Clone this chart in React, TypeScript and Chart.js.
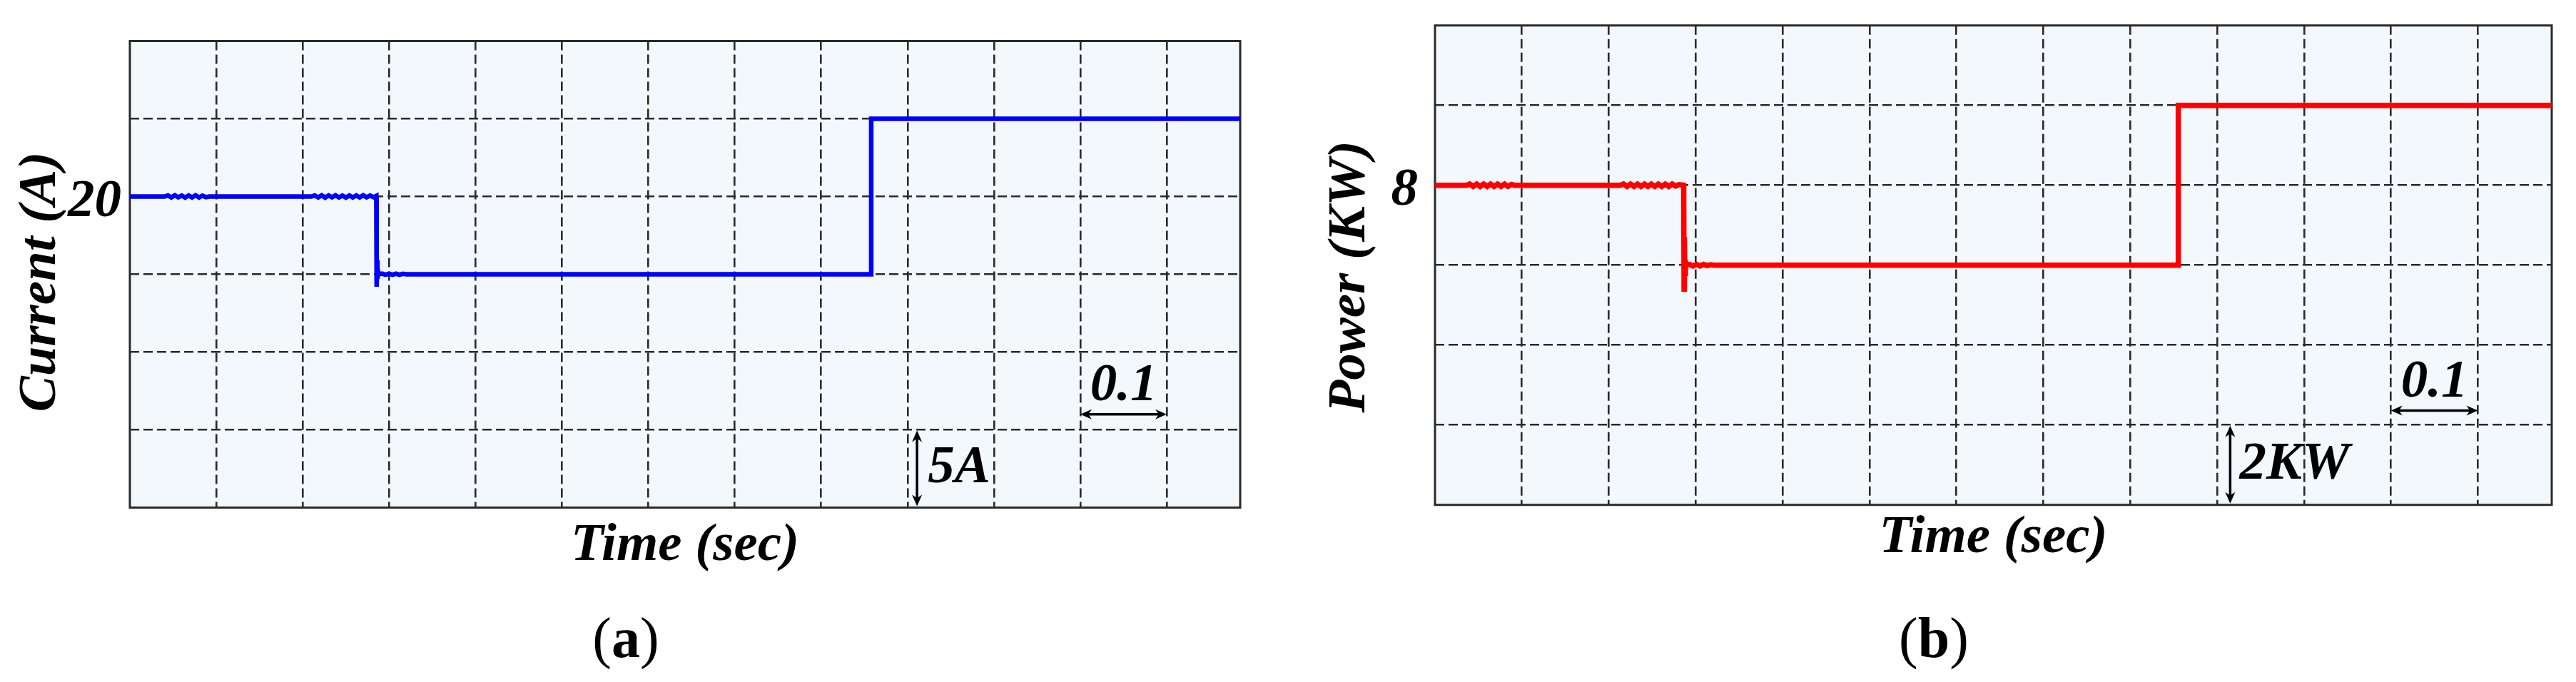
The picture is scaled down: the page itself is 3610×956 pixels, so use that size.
import { useEffect, useRef } from 'react';
import { Chart, registerables } from 'chart.js';

Chart.register(...registerables);

// ---------------- data: panel (a) load current (A) ----------------
const currentTime = [
  0,
  0.040, 0.044, 0.048, 0.052, 0.056, 0.060, 0.064, 0.068, 0.072, 0.076, 0.080, 0.084, 0.088, 0.092,
  0.210, 0.214, 0.218, 0.222, 0.226, 0.230, 0.234, 0.238, 0.242, 0.246, 0.250, 0.254, 0.258, 0.262,
  0.266, 0.270, 0.274, 0.278, 0.282,
  0.2852, 0.2856, 0.2860, 0.2865, 0.2872, 0.2880,
  0.292, 0.296, 0.300, 0.304, 0.308, 0.312, 0.316, 0.320,
  0.8577, 0.8580, 0.8590, 1.285,
];
const currentValue = [
  20,
  20.00, 20.07, 19.94, 20.08, 19.95, 20.06, 19.93, 20.07, 19.94, 20.08, 19.94, 20.05, 19.96, 20.00,
  20.00, 20.07, 19.94, 20.08, 19.93, 20.07, 19.95, 20.08, 19.94, 20.06, 19.93, 20.07, 19.94, 20.07,
  19.94, 20.08, 19.95, 20.06, 19.96,
  20.04, 14.20, 15.90, 14.70, 15.20, 15.00,
  15.04, 14.97, 15.04, 14.97, 15.04, 14.97, 15.03, 15.00,
  15.00, 25.00, 25.00, 25.00,
];

// ---------------- data: panel (b) power (KW) ----------------
const powerTime = [
  0,
  0.036, 0.040, 0.044, 0.048, 0.052, 0.056, 0.060, 0.064, 0.068, 0.072, 0.076, 0.080, 0.084, 0.088, 0.092,
  0.213, 0.217, 0.221, 0.225, 0.229, 0.233, 0.237, 0.241, 0.245, 0.249, 0.253, 0.257, 0.261, 0.265,
  0.269, 0.273, 0.277, 0.281,
  0.2862, 0.2866, 0.2870, 0.2875, 0.2882, 0.2890,
  0.293, 0.297, 0.301, 0.305, 0.309, 0.313, 0.317, 0.321,
  0.8550, 0.8553, 0.8565, 1.285,
];
const powerValue = [
  8,
  8.00, 8.03, 7.97, 8.03, 7.97, 8.03, 7.97, 8.03, 7.97, 8.03, 7.97, 8.03, 7.97, 8.02, 8.00,
  8.00, 8.03, 7.97, 8.03, 7.97, 8.03, 7.97, 8.03, 7.97, 8.03, 7.97, 8.03, 7.97, 8.03,
  7.97, 8.03, 7.98, 8.02,
  8.00, 5.40, 6.70, 5.80, 6.12, 6.00,
  6.02, 5.98, 6.02, 5.98, 6.02, 5.99, 6.01, 6.00,
  6.00, 10.00, 10.00, 10.00,
];

// ---------------- axes / ticks ----------------
const timeGridTicks = [0.1, 0.2, 0.3, 0.4, 0.5, 0.6, 0.7, 0.8, 0.9, 1.0, 1.1, 1.2];
const timeMax = 1.285;
const currentGridTicks = [5, 10, 15, 20, 25];
const currentRange = [0, 30];
const currentTickValues = [20];
const currentTickLabels = ['20'];
const powerGridTicks = [2, 4, 6, 8, 10];
const powerRange = [0, 12];
const powerTickValues = [8];
const powerTickLabels = ['8'];

// ---------------- styles ----------------
const FONT = '"Liberation Serif", "Times New Roman", serif';
const PLOT_BG = '#F3F8FC';
const GRID = '#2A2A2A';
const CANVAS_W = 1805;
const CANVAS_H = 956;

function drawArrow(ctx: CanvasRenderingContext2D, x1: number, y1: number, x2: number, y2: number) {
  const head = 16;
  const half = 7;
  const ang = Math.atan2(y2 - y1, x2 - x1);
  const ux = Math.cos(ang);
  const uy = Math.sin(ang);
  ctx.save();
  ctx.lineWidth = 3.5;
  ctx.strokeStyle = '#000';
  ctx.fillStyle = '#000';
  ctx.setLineDash([]);
  ctx.beginPath();
  ctx.moveTo(x1 + ux * head * 0.6, y1 + uy * head * 0.6);
  ctx.lineTo(x2 - ux * head * 0.6, y2 - uy * head * 0.6);
  ctx.stroke();
  const ends: [number, number, number][] = [[x1, y1, -1], [x2, y2, 1]];
  for (const [px, py, s] of ends) {
    const dx = s * ux;
    const dy = s * uy;
    const bx = px - dx * head;
    const by = py - dy * head;
    ctx.beginPath();
    ctx.moveTo(px, py);
    ctx.lineTo(bx - dy * half, by + dx * half);
    ctx.lineTo(px - dx * head * 0.7, py - dy * head * 0.7);
    ctx.lineTo(bx + dy * half, by - dx * half);
    ctx.closePath();
    ctx.fill();
  }
  ctx.restore();
}

function drawPanelLabel(ctx: CanvasRenderingContext2D, letter: string, cx: number, baseline: number) {
  const reg = `80px ${FONT}`;
  const bold = `bold 80px ${FONT}`;
  ctx.font = reg;
  const wp = ctx.measureText('(').width;
  const wq = ctx.measureText(')').width;
  ctx.font = bold;
  const wl = ctx.measureText(letter).width;
  let x = cx - (wp + wl + wq) / 2;
  ctx.textAlign = 'left';
  ctx.textBaseline = 'alphabetic';
  ctx.font = reg;
  ctx.fillText('(', x, baseline);
  x += wp;
  ctx.font = bold;
  ctx.fillText(letter, x, baseline);
  x += wl;
  ctx.font = reg;
  ctx.fillText(')', x, baseline);
}

type PanelSpec = {
  times: number[];
  values: number[];
  color: string;
  lineWidth: number;
  yGrid: number[];
  yRange: number[];
  tickValues: number[];
  tickLabels: string[];
  tickGap: number;
  yTitle: string;
  yTitleX: number;
  yTitleY: number;
  xTitle: string;
  xTitleBaseline: number;
  letter: string;
  letterX: number;
  letterBaseline: number;
  vArrow: { x: number; y0: number; y1: number; label: string; dx: number };
  hArrow: { x0: number; x1: number; y: number; label: string };
  padding: { left: number; right: number; top: number; bottom: number };
};

function makeOverlay(spec: PanelSpec) {
  return {
    id: 'overlay',
    beforeDraw(chart: any) {
      const { ctx, chartArea: a } = chart;
      ctx.save();
      ctx.fillStyle = PLOT_BG;
      ctx.fillRect(a.left, a.top, a.right - a.left, a.bottom - a.top);
      ctx.restore();
    },
    beforeDatasetsDraw(chart: any) {
      const { ctx, chartArea: a } = chart;
      ctx.save();
      ctx.strokeStyle = GRID;
      ctx.lineWidth = 3;
      ctx.setLineDash([]);
      ctx.strokeRect(a.left, a.top, a.right - a.left, a.bottom - a.top);
      ctx.restore();
    },
    afterDraw(chart: any) {
      const { ctx, chartArea: a } = chart;
      const xs = chart.scales.x;
      const ys = chart.scales.y;
      ctx.save();
      ctx.fillStyle = '#000';
      ctx.font = `italic bold 75px ${FONT}`;
      ctx.textBaseline = 'alphabetic';
      // tick labels
      ctx.textAlign = 'right';
      spec.tickValues.forEach((v, i) => {
        ctx.fillText(spec.tickLabels[i], a.left - spec.tickGap, ys.getPixelForValue(v) + 27);
      });
      // y title
      ctx.save();
      ctx.translate(spec.yTitleX, spec.yTitleY);
      ctx.rotate(-Math.PI / 2);
      ctx.textAlign = 'center';
      ctx.fillText(spec.yTitle, 0, 0);
      ctx.restore();
      // x title
      ctx.textAlign = 'center';
      ctx.fillText(spec.xTitle, (a.left + a.right) / 2, spec.xTitleBaseline);
      // vertical scale arrow
      const vx = xs.getPixelForValue(spec.vArrow.x);
      const vy0 = ys.getPixelForValue(spec.vArrow.y0);
      const vy1 = ys.getPixelForValue(spec.vArrow.y1);
      drawArrow(ctx, vx, vy1 + 1, vx, vy0 - 2);
      ctx.fillStyle = '#000';
      ctx.font = `italic bold 75px ${FONT}`;
      ctx.textAlign = 'left';
      ctx.fillText(spec.vArrow.label, vx + spec.vArrow.dx, (vy0 + vy1) / 2 + 19);
      // horizontal scale arrow
      const hx0 = xs.getPixelForValue(spec.hArrow.x0);
      const hx1 = xs.getPixelForValue(spec.hArrow.x1);
      const hy = ys.getPixelForValue(spec.hArrow.y);
      drawArrow(ctx, hx0, hy, hx1, hy);
      ctx.fillStyle = '#000';
      ctx.font = `italic bold 75px ${FONT}`;
      ctx.textAlign = 'center';
      ctx.fillText(spec.hArrow.label, (hx0 + hx1) / 2, hy - 20);
      // panel label
      drawPanelLabel(ctx, spec.letter, spec.letterX, spec.letterBaseline);
      ctx.restore();
    },
  };
}

function buildConfig(spec: PanelSpec): any {
  const gridTicksX = timeGridTicks;
  const gridTicksY = spec.yGrid;
  return {
    type: 'line',
    data: {
      datasets: [
        {
          data: spec.times.map((t, i) => ({ x: t, y: spec.values[i] })),
          borderColor: spec.color,
          backgroundColor: spec.color,
          borderWidth: spec.lineWidth,
          pointRadius: 0,
          tension: 0,
          fill: false,
          borderJoinStyle: 'miter',
        },
      ],
    },
    options: {
      responsive: false,
      maintainAspectRatio: false,
      animation: false,
      devicePixelRatio: 1,
      events: [],
      layout: { padding: spec.padding },
      plugins: { legend: { display: false }, tooltip: { enabled: false }, title: { display: false } },
      scales: {
        x: {
          type: 'linear',
          min: 0,
          max: timeMax,
          afterBuildTicks: (s: any) => {
            s.ticks = gridTicksX.map((v) => ({ value: v }));
          },
          ticks: { display: false },
          grid: { color: GRID, lineWidth: 2.6, drawTicks: false },
          border: { display: false, dash: [13, 6] },
        },
        y: {
          type: 'linear',
          min: spec.yRange[0],
          max: spec.yRange[1],
          afterBuildTicks: (s: any) => {
            s.ticks = gridTicksY.map((v) => ({ value: v }));
          },
          ticks: { display: false },
          grid: { color: GRID, lineWidth: 2.6, drawTicks: false },
          border: { display: false, dash: [13, 6] },
        },
      },
    },
    plugins: [makeOverlay(spec)],
  };
}

const panelA: PanelSpec = {
  times: currentTime,
  values: currentValue,
  color: '#0000FF',
  lineWidth: 6.5,
  yGrid: currentGridTicks,
  yRange: currentRange,
  tickValues: currentTickValues,
  tickLabels: currentTickLabels,
  tickGap: 12,
  yTitle: 'Current (A)',
  yTitleX: 77,
  yTitleY: 395,
  xTitle: 'Time (sec)',
  xTitleBaseline: 785,
  letter: 'a',
  letterX: 877,
  letterBaseline: 921,
  vArrow: { x: 0.911, y0: 0, y1: 5, label: '5A', dx: 15 },
  hArrow: { x0: 1.1, x1: 1.2, y: 6, label: '0.1' },
  padding: { left: 182, right: 67, top: 57.5, bottom: 244.5 },
};

const panelB: PanelSpec = {
  times: powerTime,
  values: powerValue,
  color: '#FF0000',
  lineWidth: 7.5,
  yGrid: powerGridTicks,
  yRange: powerRange,
  tickValues: powerTickValues,
  tickLabels: powerTickLabels,
  tickGap: 24,
  yTitle: 'Power (KW)',
  yTitleX: 107,
  yTitleY: 388,
  xTitle: 'Time (sec)',
  xTitleBaseline: 774,
  letter: 'b',
  letterX: 905,
  letterBaseline: 921,
  vArrow: { x: 0.915, y0: 0, y1: 2, label: '2KW', dx: 13 },
  hArrow: { x0: 1.1, x1: 1.2, y: 2.36, label: '0.1' },
  padding: { left: 206, right: 34, top: 35.7, bottom: 248.3 },
};

function Panel({ spec, left }: { spec: PanelSpec; left: number }) {
  const ref = useRef<HTMLCanvasElement>(null);
  useEffect(() => {
    if (!ref.current) return;
    const chart = new Chart(ref.current, buildConfig(spec));
    return () => chart.destroy();
  }, [spec]);
  return (
    <canvas
      ref={ref}
      width={CANVAS_W}
      height={CANVAS_H}
      style={{ position: 'absolute', left, top: 0, width: CANVAS_W, height: CANVAS_H }}
    />
  );
}

export default function App() {
  return (
    <div style={{ position: 'fixed', left: 0, top: 0, width: 3610, height: 956, background: '#fff', overflow: 'hidden' }}>
      <Panel spec={panelA} left={0} />
      <Panel spec={panelB} left={1805} />
    </div>
  );
}
